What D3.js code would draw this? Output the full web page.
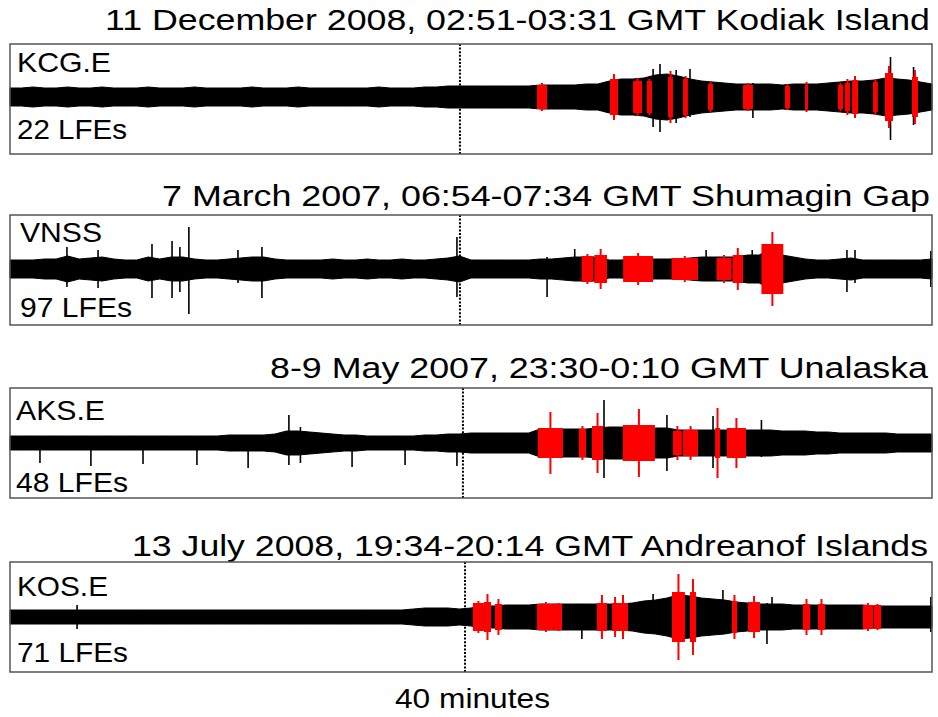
<!DOCTYPE html>
<html><head><meta charset="utf-8">
<script src="https://cdn.jsdelivr.net/npm/d3@7"></script>
<style>body{margin:0;background:#fff}svg{display:block}text{font-family:"Liberation Sans",Arial,Helvetica,sans-serif;fill:#000}</style>
</head><body><svg id="c" width="938" height="717"></svg>
<script>
// ---------------- DATA ----------------
const titles = [
  "11 December 2008, 02:51-03:31 GMT Kodiak Island",
  "7 March 2007, 06:54-07:34 GMT Shumagin Gap",
  "8-9 May 2007, 23:30-0:10 GMT Unalaska",
  "13 July 2008, 19:34-20:14 GMT Andreanof Islands"
];
const stations = ["KCG.E", "VNSS", "AKS.E", "KOS.E"];
const lfeCounts = ["22 LFEs", "97 LFEs", "48 LFEs", "71 LFEs"];
const durationLabel = "40 minutes";
const totalMinutes = 40;
const sampleStep = 0.5; // minutes between envelope samples
const markerMinutes = [19.52, 19.52, 19.65, 19.74];

// background noise envelope (half amplitude), one value per 0.5 min, 0..40 min
const envKCG = [9,9,10,9,9,10,9,9,10,9, 9,9,10,9,9,9,10,9,9,9, 9,10,9,9,9,10,9,9,9,9, 9,9,10,9,9,9,10,10,11,11,
  11,11,11,11,11,11,12,12,12,12, 13,13,16,18,18,19,22,23,21,18, 16,15,14,13,13,13,13,12,13,13, 13,14,15,16,16,17,19,18,17,15, 13];
const envVNSS = [9,9,9,10,10,13,10,11,12,10, 9,9,12,10,12,12,10,9,9,10, 11,12,12,10,9,9,9,9,10,9, 9,10,9,9,10,9,9,10,11,13,
  9,9,9,9,9,9,10,10,11,12, 12,12,9,9,10,10,10,10,10,11, 12,12,12,12,14,14,20,14,12,10, 9,9,10,11,9,9,9,9,9,9, 10];
const envAKS = [7,7,7,7,7,7,7,7,7,7, 7,7,7,7,7,7,7,7,7,8, 8,8,8,9,12,12,11,10,9,8, 8,7,7,7,7,7,8,8,9,9,
  10,10,10,10,10,10,14,14,14,14, 14,15,16,16,16,16,15,15,13,13, 13,13,13,13,13,13,13,12,12,12, 11,11,10,10,10,10,10,9,9,9, 9];
const envKOS = [7,7,7,7,7,7,7,7,7,7, 7,7,7,7,7,7,7,7,7,7, 7,7,7,7,7,7,7,7,7,7, 7,7,7,7,7,8,9,9,9,8,
  9,11,11,12,12,12,13,13,13,13, 13,13,13,13,14,16,17,19,22,21, 19,18,17,15,14,13,13,13,12,12, 12,12,12,12,12,11,11,11,11,11, 11];

// isolated black spikes: [minute, up, down]
const spikesKCG = [[27.9,28,30],[28.2,33,35],[28.9,27,26],[29.5,28,20],[32.23,14,21],[38.2,40,43],[39.2,30,28]];
const spikesVNSS = [[2.47,22,18],[3.82,19,19],[6.16,25,29],[7.03,28,29],[7.37,22,23],[7.76,42,45],[9.89,19,14],[10.93,22,29],
  [19.39,32,28],[23.3,12,28],[24.5,20,12],[30.2,19,12],[32.2,19,14],[36.31,19,23],[36.66,19,14],[39.95,18,18]];
const spikesAKS = [[1.30,0,20],[3.51,0,23],[5.77,0,21],[8.11,0,22],[10.33,0,25],[14.84,0,24],[17.14,0,22],[19.39,0,23],
  [12.1,28,22],[12.6,16,20],[25.77,43,35],[28.5,28,28],[30.5,27,25],[32.6,23,14]];
const spikesKOS = [[2.91,12,12],[24.81,13,22],[27.9,23,15],[30.93,27,14],[32.84,14,27],[33.06,20,13],[39.95,20,15]];

// LFE windows (red): [start min, end min, core half-amplitude, peak]
const lfeKCG = [[22.86,23.3,12,14],[26.03,26.38,18,23],[27.03,27.42,16,19],[27.63,27.85,16,18],[28.55,28.76,20,26],[29.2,29.41,18,21],
  [30.28,30.5,13,15],[31.8,32.23,12,14],[33.62,33.84,11,13],[34.49,34.62,12,15],[35.92,36.14,12,14],[36.22,36.44,14,18],
  [36.53,36.79,17,21],[37.44,37.65,15,18],[37.96,38.31,24,31],[39.13,39.39,20,27]];
const lfeVNSS = [[24.8,25.3,13,15],[25.35,25.9,14,20],[26.6,27.9,13,16],[28.7,29.85,11,13],[30.65,31.3,11,14],[31.35,31.8,14,21],[32.6,33.55,25,37]];
const lfeAKS = [[22.9,23.99,15,31],[24.68,24.99,14,17],[25.25,25.73,17,30],[26.59,27.98,18,34],[28.76,29.15,12,17],[29.2,29.85,13,17],[30.59,30.8,15,35],[31.1,31.93,15,25]];
const lfeKOS = [[20.08,20.56,14,16],[20.56,20.87,15,23],[21.04,21.34,13,18],[22.86,23.64,13,15],[23.64,23.95,13,14],[25.46,25.9,14,22],
  [26.12,26.38,14,20],[26.38,26.81,14,22],[28.72,29.28,25,43],[29.5,29.76,25,38],[31.32,31.54,16,22],[32.02,32.54,15,21],
  [34.4,34.71,13,18],[35.05,35.36,13,18],[37.0,37.44,12,14],[37.48,37.79,12,13]];

const envelopes = [envKCG, envVNSS, envAKS, envKOS];
const spikes = [spikesKCG, spikesVNSS, spikesAKS, spikesKOS];
const lfes = [lfeKCG, lfeVNSS, lfeAKS, lfeKOS];

// ---------------- LAYOUT ----------------
const boxLeft = 10, boxRight = 932, boxH = 110;
const boxTops = [44, 215, 388, 562];
const titleLayout = [{x:105,y:30,w:825},{x:162,y:206,w:768},{x:270,y:378,w:658},{x:132,y:556,w:796}];
const stationLayout = [{x:17,y:72,w:94},{x:20,y:242,w:82},{x:16,y:420,w:89},{x:17,y:596,w:91}];
const lfeLayout = [{x:17,y:139,w:110},{x:20,y:317,w:112},{x:16,y:492,w:112},{x:17,y:662,w:111}];
const centerOffset = [53, 54, 55, 55];

const svg = d3.select("#c");
const x = d3.scaleLinear().domain([0, totalMinutes]).range([boxLeft, boxRight]);

function addText(g, s, L, size) {
  g.append("text").attr("x", L.x).attr("y", L.y).attr("font-size", size)
    .attr("textLength", L.w).attr("lengthAdjust", "spacingAndGlyphs").text(s);
}

titles.forEach((title, p) => {
  const top = boxTops[p];
  const c = top + centerOffset[p];
  const y = d3.scaleLinear().domain([-1, 1]).range([c + 1, c - 1]);
  const g = svg.append("g");

  addText(g, title, titleLayout[p], 29);

  // envelope
  const env = envelopes[p];
  const area = d3.area()
    .x((d, i) => x(i * sampleStep))
    .y0(d => y(-d)).y1(d => y(d))
    .curve(d3.curveLinear);
  g.append("path").datum(env).attr("d", area)
    .attr("fill", "#000").attr("stroke", "#000").attr("stroke-width", 1);

  // black spikes
  g.selectAll("line.sp").data(spikes[p]).join("line").attr("class", "sp")
    .attr("x1", d => x(d[0])).attr("x2", d => x(d[0]))
    .attr("y1", d => y(d[1])).attr("y2", d => y(-d[2]))
    .attr("stroke", "#000").attr("stroke-width", 1.6);

  // red LFE windows
  g.selectAll("rect.lfe").data(lfes[p]).join("rect").attr("class", "lfe")
    .attr("x", d => x(d[0])).attr("width", d => Math.max(1, x(d[1]) - x(d[0])))
    .attr("y", d => y(d[2])).attr("height", d => y(-d[2]) - y(d[2]))
    .attr("fill", "#ff0000");
  g.selectAll("line.pk").data(lfes[p]).join("line").attr("class", "pk")
    .attr("x1", d => x((d[0] + d[1]) / 2)).attr("x2", d => x((d[0] + d[1]) / 2))
    .attr("y1", d => y(d[3])).attr("y2", d => y(-d[3]))
    .attr("stroke", "#ff0000").attr("stroke-width", 2);

  // dotted marker
  g.append("line").attr("x1", x(markerMinutes[p])).attr("x2", x(markerMinutes[p]))
    .attr("y1", top).attr("y2", top + boxH)
    .attr("stroke", "#000").attr("stroke-width", 2).attr("stroke-dasharray", "2,1.6");

  // frame
  g.append("rect").attr("x", boxLeft).attr("y", top).attr("width", boxRight - boxLeft).attr("height", boxH)
    .attr("fill", "none").attr("stroke", "#555").attr("stroke-width", 1.5);

  addText(g, stations[p], stationLayout[p], 28);
  addText(g, lfeCounts[p], lfeLayout[p], 28);
});

addText(svg, durationLabel, {x:395, y:708, w:155}, 28);
</script></body></html>
